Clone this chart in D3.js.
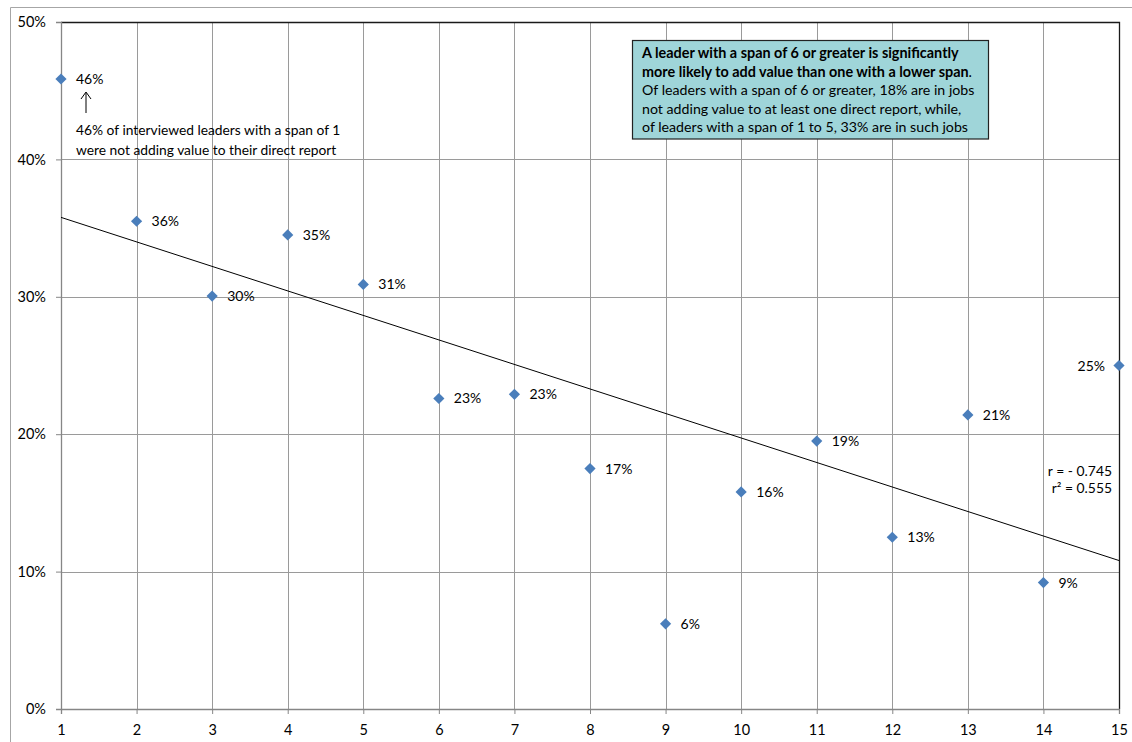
<!DOCTYPE html>
<html><head><meta charset="utf-8">
<script src="https://cdn.jsdelivr.net/npm/d3@7"></script>
<style>body{margin:0;background:#fff;}svg{display:block;font-family:Lato,"Open Sans",sans-serif;}</style>
</head><body>
<svg id="c" width="1132" height="742"></svg>
<script>
const spans = [1,2,3,4,5,6,7,8,9,10,11,12,13,14,15];
const pctNotAdding = [45.85,35.5,30.05,34.5,30.9,22.6,22.9,17.5,6.2,15.8,19.5,12.5,21.4,9.2,25.0];
const pctLabels = ["46%","36%","30%","35%","31%","23%","23%","17%","6%","16%","19%","13%","21%","9%","25%"];
const xTicks = [1,2,3,4,5,6,7,8,9,10,11,12,13,14,15];
const yTicks = [0,10,20,30,40,50];
const boxBold = ["A leader with a span of 6 or greater is significantly","more likely to add value than one with a lower span"];
const boxNormal = ["Of leaders with a span of 6 or greater, 18% are in jobs","not adding value to at least one direct report, while,","of leaders with a span of 1 to 5, 33% are in such jobs"];
const noteLines = ["46% of interviewed leaders with a span of 1","were not adding value to their direct report"];
const statLines = ["r = - 0.745","r\u00b2 = 0.555"];

const svg = d3.select("#c");
const L=61,R=1119,T=22,B=709;
const x = d3.scaleLinear().domain([1,15]).range([L,R]);
const y = d3.scaleLinear().domain([0,50]).range([B,T]);

// outer chart border
svg.append("path").attr("d","M10.5,742 L10.5,7.5 L1132,7.5").attr("fill","none").attr("stroke","#a6a6a6").attr("stroke-width",1);

// gridlines
svg.append("g").selectAll("line.v").data(xTicks.slice(1,-1)).join("line")
  .attr("x1",d=>Math.round(x(d))+0.5).attr("x2",d=>Math.round(x(d))+0.5).attr("y1",T).attr("y2",B)
  .attr("stroke","#9a9a9a").attr("stroke-width",1);
svg.append("g").selectAll("line.h").data(yTicks.slice(1,-1)).join("line")
  .attr("y1",d=>Math.round(y(d))+0.5).attr("y2",d=>Math.round(y(d))+0.5).attr("x1",L).attr("x2",R)
  .attr("stroke","#9a9a9a").attr("stroke-width",1);

// top and right borders
svg.append("path").attr("d",`M${L},${T+0.5} L${R+0.5},${T+0.5} L${R+0.5},${B}`).attr("fill","none").attr("stroke","#1a1a1a").attr("stroke-width",1.3);

// axes
const yAxis = d3.axisLeft(y).tickValues(yTicks).tickFormat(d=>d+"%").tickSize(5).tickPadding(9);
const gy = svg.append("g").attr("transform",`translate(${L},0)`).call(yAxis);
const xAxis = d3.axisBottom(x).tickValues(xTicks).tickFormat(d3.format("d")).tickSize(5).tickPadding(11);
const gx = svg.append("g").attr("transform",`translate(0,${B})`).call(xAxis);
[gx,gy].forEach(g=>{
  g.select(".domain").attr("stroke","#868686").attr("stroke-width",1.3);
  g.selectAll(".tick line").attr("stroke","#868686");
  g.selectAll("text").attr("font-size",14.5).attr("fill","#000").attr("font-family","Lato,'Open Sans',sans-serif");
});
gy.selectAll("text").attr("dx",-1);

// trend line (least squares)
const mx = d3.mean(spans), my = d3.mean(pctNotAdding);
const sxy = d3.sum(spans.map((s,i)=>(s-mx)*(pctNotAdding[i]-my)));
const sxx = d3.sum(spans.map(s=>(s-mx)*(s-mx)));
const slope = sxy/sxx, icpt = my - slope*mx;
svg.append("line").attr("x1",x(1)).attr("y1",y(icpt+slope*1)).attr("x2",x(15)).attr("y2",y(icpt+slope*15))
  .attr("stroke","#000").attr("stroke-width",1);

// points
const diamond = d3.symbol().type(d3.symbolDiamond2).size(80);
svg.append("g").selectAll("path").data(spans).join("path")
  .attr("transform",(d,i)=>`translate(${x(d)},${y(pctNotAdding[i])})`)
  .attr("d",diamond).attr("fill","#4a7ebb");

// labels
svg.append("g").selectAll("text").data(spans).join("text")
  .attr("x",(d,i)=> i===spans.length-1 ? x(d)-14 : x(d)+15)
  .attr("y",(d,i)=>y(pctNotAdding[i])+5)
  .attr("text-anchor",(d,i)=> i===spans.length-1 ? "end":"start")
  .attr("font-size",14).text((d,i)=>pctLabels[i]);

// arrow annotation
svg.append("line").attr("x1",86).attr("x2",86).attr("y1",113).attr("y2",93).attr("stroke","#000").attr("stroke-width",1);
svg.append("path").attr("d","M81,99 L86,92 L91,99").attr("fill","none").attr("stroke","#000").attr("stroke-width",1);
svg.append("g").selectAll("text").data(noteLines).join("text")
  .attr("x",76).attr("y",(d,i)=>135+i*20).attr("font-size",13.8).text(d=>d);

// text box
svg.append("rect").attr("x",632.5).attr("y",40.5).attr("width",356).attr("height",98.5)
  .attr("fill","#9fd5d9").attr("stroke","#222").attr("stroke-width",1.2);
const bt = svg.append("g");
boxBold.forEach((t,i)=>{
  const tx = bt.append("text").attr("x",642).attr("y",58+i*18.5).attr("font-size",14.4).attr("font-weight","bold").text(t);
  if(i===boxBold.length-1) tx.append("tspan").attr("font-weight","normal").text(".");
});
boxNormal.forEach((t,i)=>{
  bt.append("text").attr("x",642).attr("y",95+i*18.5).attr("font-size",14.2).text(t);
});

// stats
svg.append("g").selectAll("text").data(statLines).join("text")
  .attr("x",1112).attr("y",(d,i)=>476+i*17).attr("text-anchor","end").attr("font-size",13.9).text(d=>d);
</script>
</body></html>
